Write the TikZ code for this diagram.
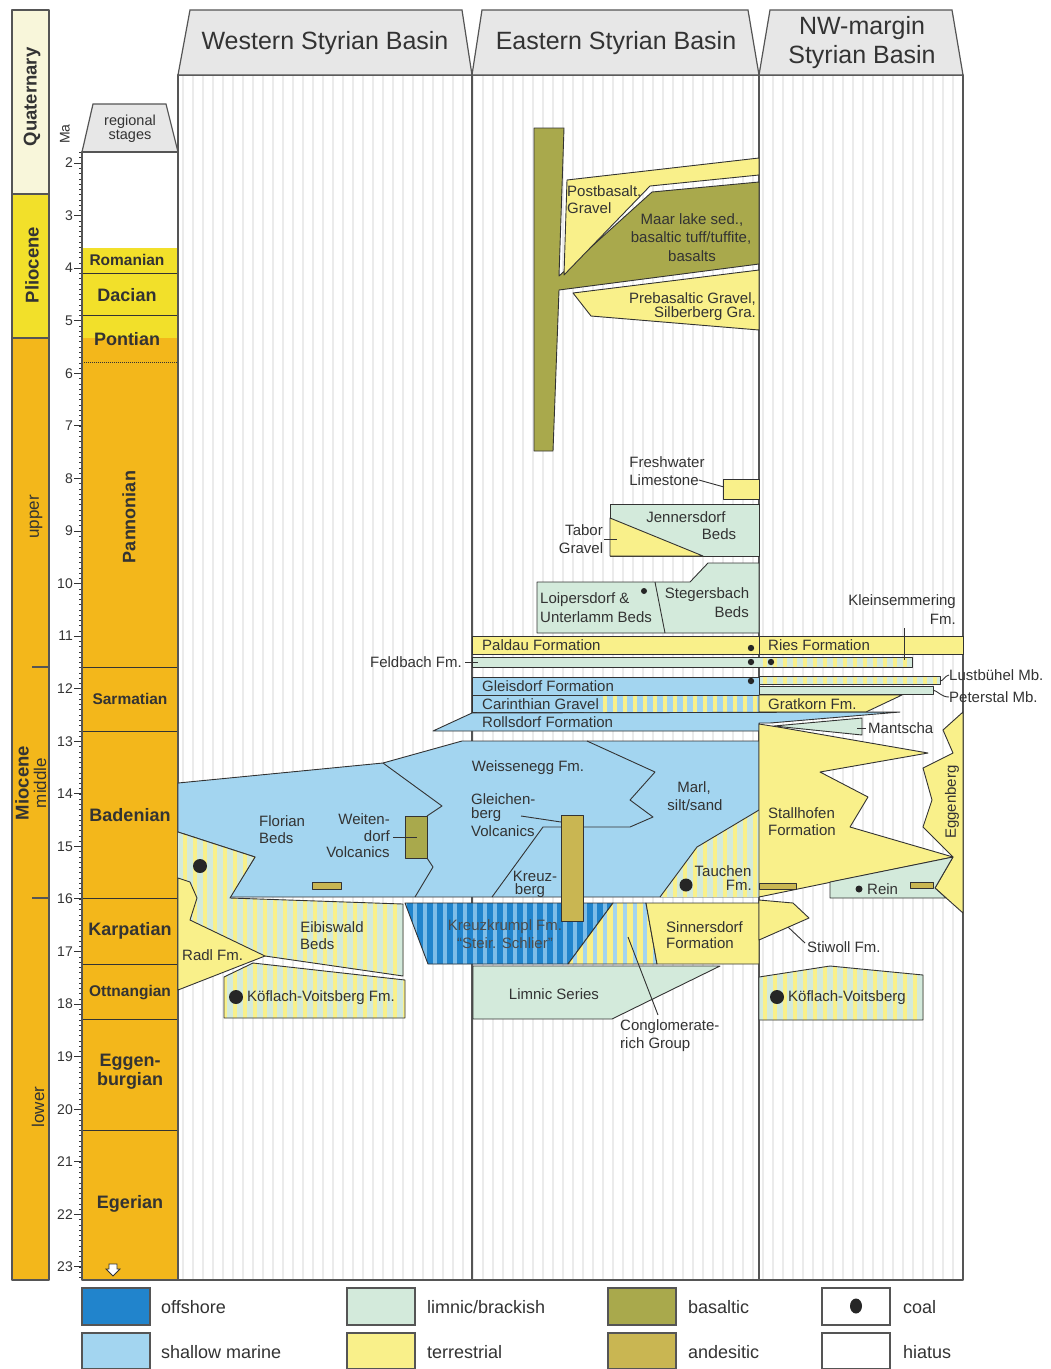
\documentclass[tikz,border=0pt]{standalone}
\usepackage{fontspec}
\setmainfont{Liberation Sans}
\definecolor{cOff}{HTML}{2184CC}
\definecolor{cOffS}{HTML}{7DBDE8}
\definecolor{cSha}{HTML}{A3D5F0}
\definecolor{cLim}{HTML}{D3EADB}
\definecolor{cTer}{HTML}{F9F08A}
\definecolor{cBas}{HTML}{A9A94C}
\definecolor{cAnd}{HTML}{C9B652}
\definecolor{cMio}{HTML}{F3B71B}
\definecolor{cPli}{HTML}{F2E02A}
\definecolor{cQua}{HTML}{F8F6DA}
\definecolor{cHead}{HTML}{E7E7E7}
\definecolor{cHia}{HTML}{EBEBEB}
\definecolor{cLine}{HTML}{333333}
\definecolor{cFrame}{HTML}{555555}
\definecolor{cTxt}{HTML}{333333}
\newcommand\stripes[3]{%
  \begin{scope}
    \clip #1;
    \fill[#2] (170,60) rectangle (970,1290);
    \foreach \xx in {175,185,...,965} \draw[#3, line width=3.5pt] (\xx,60) -- (\xx,1290);
  \end{scope}}
\newcommand\coal[2]{\fill[black!85] (#1) circle (#2pt);}
\begin{document}
\begin{tikzpicture}[x=1pt,y=-1pt,
  geo/.style={fill=#1, draw=cLine, line width=0.9pt, line join=round},
  ol/.style={draw=cLine, line width=0.9pt, line join=round},
  frame/.style={draw=cFrame, line width=1.3pt, line join=round},
  lab/.style={font=\fontsize{15}{16}\selectfont, text=cTxt, inner sep=0pt},
  lbw/.style={lab, anchor=west},
  lbe/.style={lab, anchor=east},
  stg/.style={font=\bfseries\fontsize{18}{19}\selectfont, text=cTxt, inner sep=0pt},
  stgs/.style={font=\bfseries\fontsize{15.5}{16}\selectfont, text=cTxt, inner sep=0pt},
  ep/.style={font=\fontsize{17}{18}\selectfont, text=cTxt, inner sep=0pt, rotate=90},
  epb/.style={font=\bfseries\fontsize{18.5}{19}\selectfont, text=cTxt, inner sep=0pt, rotate=90},
  hd/.style={font=\fontsize{25}{28}\selectfont, text=cTxt, inner sep=0pt, align=center},
  leg/.style={font=\fontsize{18}{19}\selectfont, text=cTxt, inner sep=0pt, anchor=west},
  lbox/.style={fill=#1, draw=cFrame, line width=1.2pt}
]
\useasboundingbox (0,0) rectangle (1051,1369);
\fill[white] (0,0) rectangle (1051,1369);

% ---------- epoch column ----------
\fill[cQua] (12,10) rectangle (49,194);
\fill[cPli] (12,194) rectangle (49,338);
\fill[cMio] (12,338) rectangle (49,1280);
\draw[frame] (12,10) rectangle (49,1280);
\draw[frame] (12,194) -- (49,194) (12,338) -- (49,338);
\draw[frame] (32,667) -- (49,667) (32,898) -- (49,898);
\node[epb] (eQ) at (32,97) {Quaternary};
\node[epb] (eP) at (32,265) {Pliocene};
\node[ep] (eU) at (36,517) {upper};
\node[epb] (eM) at (22,783) {Miocene};
\node[ep] (eMi) at (40,783) {middle};
\node[ep] (eL) at (38,1107) {lower};

% ---------- time ticks ----------
\node[font=\fontsize{14}{15}\selectfont, text=cTxt, rotate=90, inner sep=0pt] (ma) at (65,134) {Ma};
\foreach \i in {18,...,232} {
  \pgfmathsetmacro\yy{57.86+5.257*\i}
  \draw[cLine, line width=0.5pt] (79,\yy) -- (82,\yy);
}
\foreach \m in {2,...,23} {
  \pgfmathsetmacro\yy{57.86+52.57*\m}
  \draw[cLine, line width=1pt] (74,\yy) -- (82,\yy);
  \node[font=\fontsize{14}{15}\selectfont, text=cTxt, anchor=east, inner sep=0pt] at (73,\yy) {\m};
}

% ---------- stage column ----------
\path[lbox=cHead] (82,152) -- (93,104) -- (166,104) -- (178,152) -- cycle;
\node[font=\fontsize{14.5}{15}\selectfont, text=cTxt, align=center, inner sep=0pt] (rs) at (130,129) {regional\\[-1pt]stages};
\fill[cPli] (82,248) rectangle (178,338);
\fill[cMio] (82,338) rectangle (178,1280);
\draw[cLine, line width=0.8pt] (82,273) -- (178,273) (82,315) -- (178,315);
\draw[cLine, line width=1pt, densely dotted] (82,362) -- (178,362);
\foreach \yy in {667,731,898,964,1019,1130} \draw[cLine, line width=0.9pt] (82,\yy) -- (178,\yy);
\draw[frame] (82,152) rectangle (178,1280);
\node[stgs] (sRo) at (127,260) {Romanian};
\node[stg] (sDa) at (127,295) {Dacian};
\node[stg] (sPo) at (127,339) {Pontian};
\node[stg, rotate=90] (sPa) at (129,517) {Pannonian};
\node[stgs] (sSa) at (130,699) {Sarmatian};
\node[stg] (sBa) at (130,815) {Badenian};
\node[stg] (sKa) at (130,931) {Karpatian};
\node[stgs] (sOt) at (130,993) {Ottnangian};
\node[stg, align=center] (sEg) at (130,1072) {Eggen-\\burgian};
\node[stg] (sEr) at (130,1204) {Egerian};
\path[fill=white, draw=cLine, line width=0.8pt] (109,1264) -- (117,1264) -- (117,1269) -- (120,1269) -- (113,1276) -- (106,1269) -- (109,1269) -- cycle;

% ---------- hiatus background and column frames (under the units) ----------
\foreach \xx in {183,193,...,963} \draw[cHia, line width=1.6pt] (\xx,75) -- (\xx,1280);
\draw[frame] (178,75) rectangle (963,1280);
\draw[frame] (472,75) -- (472,1280) (759,75) -- (759,1280);

% ---------- Eastern: Pliocene / upper Pannonian ----------
\path[geo=cBas] (534,128) -- (564,128) -- (559,276) -- (652,192) -- (759,182) -- (759,264) -- (559,290) -- (553,451) -- (534,451) -- cycle;
\path[geo=cTer] (567,180) -- (759,158) -- (759,175) -- (650,186) -- (564,275) -- cycle;
\path[geo=cTer] (573,293) -- (759,270) -- (759,330) -- (591,316) -- cycle;
\node[lbw] (pb1) at (567,191) {Postbasalt.};
\node[lbw] (pb2) at (567,208) {Gravel};
\node[lab] (ml1) at (692,220) {Maar lake sed.,};
\node[lab] (ml2) at (691,238) {basaltic tuff/tuffite,};
\node[lab] (ml3) at (692,256) {basalts};
\node[lbe] (pr1) at (756,299) {Prebasaltic Gravel,};
\node[lbe] (pr2) at (756,314) {Silberberg Gra.};

\path[geo=cTer] (723,479) rectangle (759,499);
\node[lab] (fw1) at (667,462) {Freshwater};
\node[lab] (fw2) at (664,480) {Limestone};
\coordinate (fwE) at (724,487);
\draw[ol] (fw2.east) -- (fwE);

\path[geo=cLim] (610,504) rectangle (759,556);
\path[geo=cTer] (610,518) -- (703,556) -- (610,556) -- cycle;
\node[lab] (je1) at (686,517) {Jennersdorf};
\node[lab] (je2) at (719,534) {Beds};
\node[lab] (ta1) at (584,530) {Tabor};
\node[lab] (ta2) at (581,548) {Gravel};
\coordinate (taE) at (617,539);
\draw[ol] (604,539) -- (taE);

\path[geo=cLim] (537,582) -- (690,582) -- (708,563) -- (759,563) -- (759,633) -- (537,633) -- cycle;
\draw[ol] (655,582) -- (665,633);
\coal{644,591}{3}
\node[lbw] (lo1) at (540,600) {Loipersdorf \&};
\node[lbw] (lo2) at (540,617) {Unterlamm Beds};
\node[lab] (st1) at (707,595) {Stegersbach};
\node[lbe] (st2) at (749,612) {Beds};

% ---------- Pannonian / Sarmatian bars ----------
\path[geo=cTer] (472,636) rectangle (963,654);
\draw[ol] (759,636) -- (759,654);
\node[lbw] (pa) at (482,645) {Paldau Formation};
\node[lbw] (ri) at (768,645) {Ries Formation};
\fill[cLim] (472,657) rectangle (759,667);
\stripes{(759,657) rectangle (912,667)}{cLim}{cTer}
\draw[ol] (472,657) rectangle (912,667);
\node[lbe] (fb) at (462,662) {Feldbach Fm.};
\coordinate (fbE) at (478,662);
\draw[ol] (465,662) -- (fbE);
\node[lbe] (ks1) at (956,602) {Kleinsemmering};
\node[lbe] (ks2) at (956,619) {Fm.};
\coordinate (ksE) at (904,660);
\draw[ol] (904,628) -- (ksE);
\coal{751,648}{3.2}
\coal{751,662}{3.2}
\coal{771,662}{3.2}

\stripes{(759,676) rectangle (940,684)}{cLim}{cTer}
\draw[ol] (759,676) rectangle (940,684);
\path[geo=cLim] (759,686) rectangle (933,694);
\node[lbw] (lu) at (949,675) {Lustbühel Mb.};
\node[lbw] (pe) at (949,697) {Peterstal Mb.};
\draw[ol] (940,681) .. controls (944,681) and (944,676) .. (lu.west);
\draw[ol] (933,690) .. controls (938,691) and (941,697) .. (pe.west);

\path[geo=cSha] (472,677) rectangle (759,695);
\coal{751,681}{3.2}
\node[lbw] (gl) at (482,686) {Gleisdorf Formation};
\fill[cSha] (472,695) rectangle (759,712);
\stripes{(600,695) rectangle (759,712)}{cSha}{cTer}
\draw[ol] (472,695) rectangle (759,712);
\node[lbw] (ca) at (482,704) {Carinthian Gravel};
\path[geo=cTer] (759,695) -- (902,695) -- (866,712) -- (759,712) -- cycle;
\node[lbw] (gr) at (768,704) {Gratkorn Fm.};
\path[geo=cSha] (433,731) -- (472,713) -- (900,712) -- (770,723) -- (759,723) -- (759,731) -- cycle;
\node[lbw] (ro) at (482,722) {Rollsdorf Formation};
\path[geo=cLim] (774,726) -- (862,718) -- (862,735) -- cycle;
\node[lbw] (mt) at (868,728) {Mantscha};
\draw[ol] (857,728) -- (866,728);

% ---------- Badenian ----------
\path[geo=cSha] (178,783) -- (383,763) -- (462,741) -- (759,741) -- (759,897) -- (230,897) -- (255,857) -- (178,832) -- cycle;
\draw[ol] (383,763) -- (442,806) -- (427,816);
\draw[ol] (427,858) -- (433,867) -- (415,897);
\draw[ol] (587,741) -- (655,772) -- (630,800) -- (653,817) -- (630,827) -- (583,827);
\draw[ol] (561,827) -- (543,827) -- (492,897);
\path[geo=cBas] (405,816) rectangle (427,858);
\path[geo=cAnd] (312,882) rectangle (341,889);
\node[lbw] (fl1) at (259,821) {Florian};
\node[lbw] (fl2) at (259,838) {Beds};
\node[lbe] (we1) at (390,819) {Weiten-};
\node[lbe] (we2) at (390,836) {dorf};
\node[lab] (we3) at (358,852) {Volcanics};
\coordinate (weE) at (417,837);
\draw[ol] (393,837) -- (weE);
\node[lab] (wg) at (528,768) {Weissenegg Fm.};
\node[lbw] (gc1) at (471,799) {Gleichen-};
\node[lbw] (gc2) at (471,815) {berg};
\node[lbw] (gc3) at (471,831) {Volcanics};
\node[lab] (mr1) at (694,788) {Marl,};
\node[lab] (mr2) at (695,805) {silt/sand};
\node[lab] (kb1) at (535,876) {Kreuz-};
\node[lab] (kb2) at (530,891) {berg};
\stripes{(660,897) -- (697,847) -- (759,810) -- (759,897) -- cycle}{cLim}{cTer}
\draw[ol] (660,897) -- (697,847) -- (759,810);
\coal{686,885}{6.5}
\node[lab] (tc1) at (723,871) {Tauchen};
\node[lbe] (tc2) at (752,885) {Fm.};

% NW margin Badenian
\path[geo=cTer] (759,724) -- (778,727) -- (928,753) -- (820,772) -- (868,797) -- (850,827) -- (953,857) -- (759,897) -- cycle;
\path[geo=cTer] (963,712) -- (943,730) -- (953,753) -- (923,768) -- (932,800) -- (923,827) -- (953,857) -- (935,888) -- (963,913) -- cycle;
\path[geo=cLim] (830,882) -- (953,857) -- (935,888) -- (946,898) -- (830,898) -- cycle;
\path[geo=cAnd] (759,883) rectangle (796,889);
\path[geo=cAnd] (910,882) rectangle (933,888);
\coal{859,889}{3.5}
\node[lbw] (re) at (867,889) {Rein};
\node[lbw] (sh1) at (768,813) {Stallhofen};
\node[lbw] (sh2) at (768,830) {Formation};
\node[lab, rotate=90] (eg) at (952,802) {Eggenberg};

% ---------- Karpatian / Ottnangian ----------
\stripes{(178,832) -- (255,857) -- (230,898) -- (403,904) -- (403,976) -- (265,956) -- (178,956) -- cycle}{cLim}{cTer}
\draw[ol] (178,832) -- (255,857) -- (230,898) -- (403,904) -- (403,976) -- (265,956);
\coal{200,866}{7}
\path[geo=cTer] (178,878) -- (190,882) -- (197,898) -- (190,920) -- (265,956) -- (178,990) -- cycle;
\node[lbw] (ra) at (182,955) {Radl Fm.};
\node[lab] (eb1) at (332,927) {Eibiswald};
\node[lbw] (eb2) at (300,944) {Beds};
\stripes{(224,977) -- (253,963) -- (405,980) -- (405,1018) -- (224,1018) -- cycle}{cLim}{cTer}
\draw[ol] (224,977) -- (253,963) -- (405,980) -- (405,1018) -- (224,1018) -- cycle;
\coal{236,997}{7}
\node[lbw] (kv1) at (247,998) {Köflach-Voitsberg Fm.};

\stripes{(405,903) -- (613,903) -- (568,964) -- (428,964) -- cycle}{cOff}{cOffS}
\draw[ol] (405,903) -- (613,903) -- (568,964) -- (428,964) -- cycle;
\node[lab, text=black!70] (kk1) at (505,927) {Kreuzkrumpl Fm.};
\node[lab, text=black!70] (kk2) at (505,943) {“Steir. Schlier”};
\stripes{(613,903) -- (646,903) -- (657,964) -- (568,964) -- cycle}{cTer}{cSha}
\draw[ol] (613,903) -- (646,903) -- (657,964) -- (568,964) -- cycle;
\path[geo=cTer] (646,903) -- (759,903) -- (759,964) -- (657,964) -- cycle;
\node[lbw] (si1) at (666,927) {Sinnersdorf};
\node[lbw] (si2) at (666,943) {Formation};
\path[geo=cAnd] (561,815) rectangle (583,921);
\coordinate (gcE) at (561,822);
\draw[ol] (521,816) -- (gcE);
\path[geo=cLim] (473,966) -- (720,966) -- (612,1019) -- (473,1019) -- cycle;
\node[lab] (ls) at (554,994) {Limnic Series};
\node[lbw] (cg1) at (620,1027) {Conglomerate-};
\node[lbw] (cg2) at (620,1045) {rich Group};
\coordinate (cgS) at (628,937);
\draw[ol] (cgS) -- (658,1015);

\path[geo=cTer] (759,900) -- (793,903) -- (809,918) -- (759,940) -- cycle;
\node[lbw] (sw) at (807,947) {Stiwoll Fm.};
\coordinate (swS) at (788,927);
\draw[ol] (swS) -- (805,943);
\stripes{(759,977) -- (830,966) -- (923,975) -- (923,1020) -- (759,1020) -- cycle}{cLim}{cTer}
\draw[ol] (759,977) -- (830,966) -- (923,975) -- (923,1020) -- (759,1020) -- cycle;
\coal{777,997}{7}
\node[lbw] (kv2) at (788,998) {Köflach-Voitsberg};

% ---------- headers ----------
\path[lbox=cHead] (178,75) -- (190,10) -- (462,10) -- (472,75) -- cycle;
\path[lbox=cHead] (472,75) -- (482,10) -- (748,10) -- (759,75) -- cycle;
\path[lbox=cHead] (759,75) -- (770,10) -- (952,10) -- (963,75) -- cycle;
\node[hd] (hW) at (325,43) {Western Styrian Basin};
\node[hd] (hE) at (616,43) {Eastern Styrian Basin};
\node[hd] (hN) at (862,43) {NW-margin\\[1pt]Styrian Basin};

% ---------- legend ----------
\path[lbox=cOff] (82,1288) rectangle (150,1325);
\path[lbox=cSha] (82,1333) rectangle (150,1369);
\path[lbox=cLim] (347,1288) rectangle (415,1325);
\path[lbox=cTer] (347,1333) rectangle (415,1369);
\path[lbox=cBas] (608,1288) rectangle (676,1325);
\path[lbox=cAnd] (608,1333) rectangle (676,1369);
\path[lbox=white] (822,1288) rectangle (890,1325);
\path[lbox=white] (822,1333) rectangle (890,1369);
\fill[black!85] (856,1306) ellipse (6pt and 7.5pt);
\node[leg] (l1) at (161,1307) {offshore};
\node[leg] (l2) at (161,1352) {shallow marine};
\node[leg] (l3) at (427,1307) {limnic/brackish};
\node[leg] (l4) at (427,1352) {terrestrial};
\node[leg] (l5) at (688,1307) {basaltic};
\node[leg] (l6) at (688,1352) {andesitic};
\node[leg] (l7) at (903,1307) {coal};
\node[leg] (l8) at (903,1352) {hiatus};
\end{tikzpicture}
\end{document}
